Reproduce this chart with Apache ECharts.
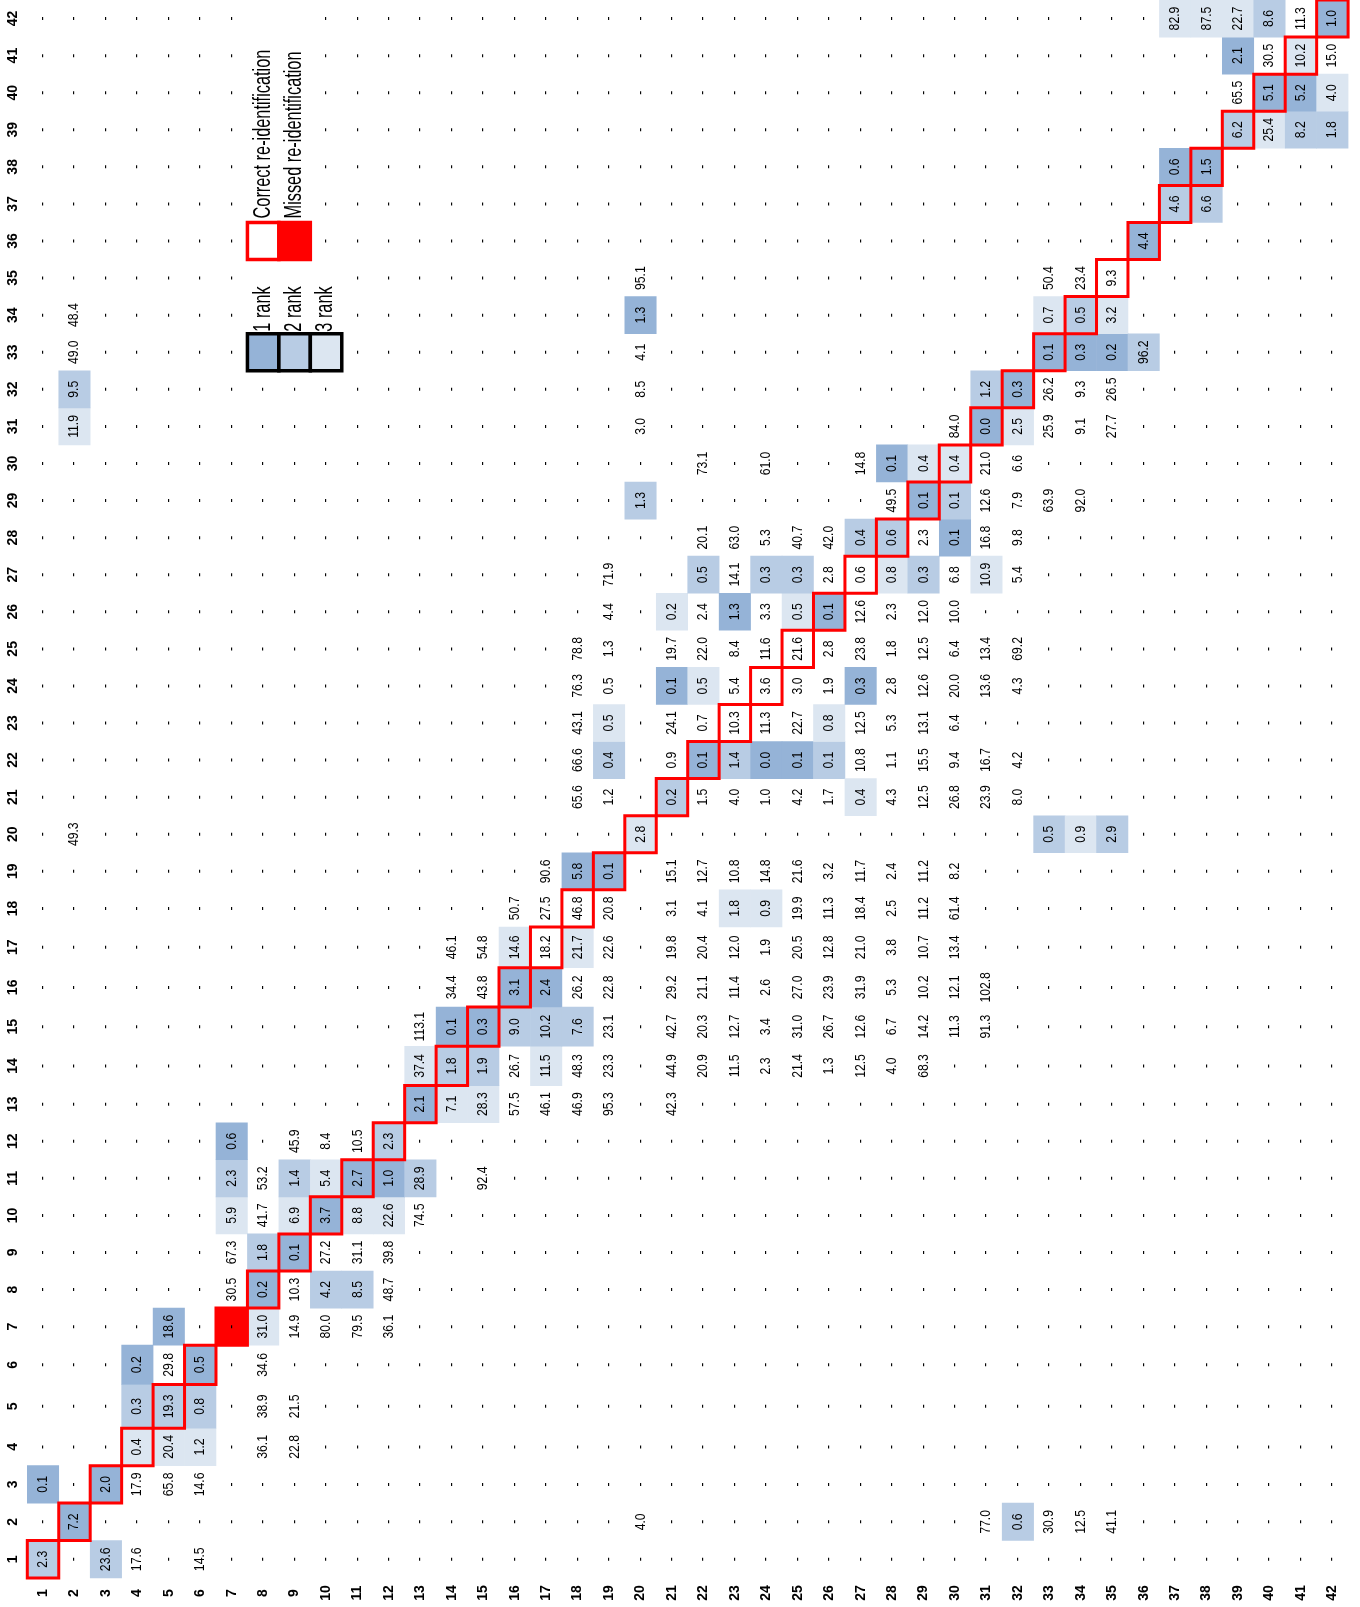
<!DOCTYPE html>
<html>
<head>
<meta charset="utf-8">
<script src="https://cdn.jsdelivr.net/npm/echarts@6/dist/echarts.min.js"></script>
<style>
  html, body { margin: 0; padding: 0; background: #fff; }
  #chart { width: 1360px; height: 1607px; }
</style>
</head>
<body>
<div id="chart"></div>
<script>
// Axis tick labels (same 1..42 identities on both axes)
const labels = ['1','2','3','4','5','6','7','8','9','10','11','12','13','14','15','16','17','18','19','20','21',
  '22','23','24','25','26','27','28','29','30','31','32','33','34','35','36','37','38','39','40','41','42'];

// One array per column: [row, distance, rank]; rank 1..3 marks the three nearest candidates, 0 = unranked
const col01 = [[1, 2.3, 2], [3, 0.1, 1]];
const col02 = [[2, 7.2, 1], [20, 49.3, 0], [31, 11.9, 3], [32, 9.5, 2], [33, 49.0, 0], [34, 48.4, 0]];
const col03 = [[1, 23.6, 2], [3, 2.0, 1]];
const col04 = [[1, 17.6, 0], [3, 17.9, 0], [4, 0.4, 3], [5, 0.3, 2], [6, 0.2, 1]];
const col05 = [[3, 65.8, 0], [4, 20.4, 3], [5, 19.3, 2], [6, 29.8, 0], [7, 18.6, 1]];
const col06 = [[1, 14.5, 0], [3, 14.6, 0], [4, 1.2, 3], [5, 0.8, 2], [6, 0.5, 1]];
const col07 = [[8, 30.5, 0], [9, 67.3, 0], [10, 5.9, 3], [11, 2.3, 2], [12, 0.6, 1]];
const col08 = [[4, 36.1, 0], [5, 38.9, 0], [6, 34.6, 0], [7, 31.0, 3], [8, 0.2, 1], [9, 1.8, 2], [10, 41.7, 0], [11, 53.2, 0]];
const col09 = [[4, 22.8, 0], [5, 21.5, 0], [7, 14.9, 0], [8, 10.3, 0], [9, 0.1, 1], [10, 6.9, 3], [11, 1.4, 2], [12, 45.9, 0]];
const col10 = [[7, 80.0, 0], [8, 4.2, 2], [9, 27.2, 0], [10, 3.7, 1], [11, 5.4, 3], [12, 8.4, 0]];
const col11 = [[7, 79.5, 0], [8, 8.5, 2], [9, 31.1, 0], [10, 8.8, 3], [11, 2.7, 1], [12, 10.5, 0]];
const col12 = [[7, 36.1, 0], [8, 48.7, 0], [9, 39.8, 0], [10, 22.6, 3], [11, 1.0, 1], [12, 2.3, 2]];
const col13 = [[10, 74.5, 0], [11, 28.9, 2], [13, 2.1, 1], [14, 37.4, 3], [15, 113.1, 0]];
const col14 = [[13, 7.1, 3], [14, 1.8, 2], [15, 0.1, 1], [16, 34.4, 0], [17, 46.1, 0]];
const col15 = [[11, 92.4, 0], [13, 28.3, 3], [14, 1.9, 2], [15, 0.3, 1], [16, 43.8, 0], [17, 54.8, 0]];
const col16 = [[13, 57.5, 0], [14, 26.7, 0], [15, 9.0, 2], [16, 3.1, 1], [17, 14.6, 3], [18, 50.7, 0]];
const col17 = [[13, 46.1, 0], [14, 11.5, 3], [15, 10.2, 2], [16, 2.4, 1], [17, 18.2, 0], [18, 27.5, 0], [19, 90.6, 0]];
const col18 = [[13, 46.9, 0], [14, 48.3, 0], [15, 7.6, 2], [16, 26.2, 0], [17, 21.7, 3], [18, 46.8, 0], [19, 5.8, 1],
  [21, 65.6, 0], [22, 66.6, 0], [23, 43.1, 0], [24, 76.3, 0], [25, 78.8, 0]];
const col19 = [[13, 95.3, 0], [14, 23.3, 0], [15, 23.1, 0], [16, 22.8, 0], [17, 22.6, 0], [18, 20.8, 0], [19, 0.1, 1],
  [21, 1.2, 0], [22, 0.4, 2], [23, 0.5, 3], [24, 0.5, 0], [25, 1.3, 0], [26, 4.4, 0], [27, 71.9, 0]];
const col20 = [[2, 4.0, 0], [20, 2.8, 3], [29, 1.3, 2], [31, 3.0, 0], [32, 8.5, 0], [33, 4.1, 0], [34, 1.3, 1], [35, 95.1, 0]];
const col21 = [[13, 42.3, 0], [14, 44.9, 0], [15, 42.7, 0], [16, 29.2, 0], [17, 19.8, 0], [18, 3.1, 0], [19, 15.1, 0],
  [21, 0.2, 2], [22, 0.9, 0], [23, 24.1, 0], [24, 0.1, 1], [25, 19.7, 0], [26, 0.2, 3]];
const col22 = [[14, 20.9, 0], [15, 20.3, 0], [16, 21.1, 0], [17, 20.4, 0], [18, 4.1, 0], [19, 12.7, 0], [21, 1.5, 0],
  [22, 0.1, 1], [23, 0.7, 0], [24, 0.5, 3], [25, 22.0, 0], [26, 2.4, 0], [27, 0.5, 2], [28, 20.1, 0], [30, 73.1, 0]];
const col23 = [[14, 11.5, 0], [15, 12.7, 0], [16, 11.4, 0], [17, 12.0, 0], [18, 1.8, 3], [19, 10.8, 0], [21, 4.0, 0],
  [22, 1.4, 2], [23, 10.3, 0], [24, 5.4, 0], [25, 8.4, 0], [26, 1.3, 1], [27, 14.1, 0], [28, 63.0, 0]];
const col24 = [[14, 2.3, 0], [15, 3.4, 0], [16, 2.6, 0], [17, 1.9, 0], [18, 0.9, 3], [19, 14.8, 0], [21, 1.0, 0],
  [22, 0.0, 1], [23, 11.3, 0], [24, 3.6, 0], [25, 11.6, 0], [26, 3.3, 0], [27, 0.3, 2], [28, 5.3, 0], [30, 61.0, 0]];
const col25 = [[14, 21.4, 0], [15, 31.0, 0], [16, 27.0, 0], [17, 20.5, 0], [18, 19.9, 0], [19, 21.6, 0], [21, 4.2, 0],
  [22, 0.1, 1], [23, 22.7, 0], [24, 3.0, 0], [25, 21.6, 0], [26, 0.5, 3], [27, 0.3, 2], [28, 40.7, 0]];
const col26 = [[14, 1.3, 0], [15, 26.7, 0], [16, 23.9, 0], [17, 12.8, 0], [18, 11.3, 0], [19, 3.2, 0], [21, 1.7, 0],
  [22, 0.1, 2], [23, 0.8, 3], [24, 1.9, 0], [25, 2.8, 0], [26, 0.1, 1], [27, 2.8, 0], [28, 42.0, 0]];
const col27 = [[14, 12.5, 0], [15, 12.6, 0], [16, 31.9, 0], [17, 21.0, 0], [18, 18.4, 0], [19, 11.7, 0], [21, 0.4, 3],
  [22, 10.8, 0], [23, 12.5, 0], [24, 0.3, 1], [25, 23.8, 0], [26, 12.6, 0], [27, 0.6, 0], [28, 0.4, 2], [30, 14.8, 0]];
const col28 = [[14, 4.0, 0], [15, 6.7, 0], [16, 5.3, 0], [17, 3.8, 0], [18, 2.5, 0], [19, 2.4, 0], [21, 4.3, 0],
  [22, 1.1, 0], [23, 5.3, 0], [24, 2.8, 0], [25, 1.8, 0], [26, 2.3, 0], [27, 0.8, 3], [28, 0.6, 2], [29, 49.5, 0], [30, 0.1, 1]];
const col29 = [[14, 68.3, 0], [15, 14.2, 0], [16, 10.2, 0], [17, 10.7, 0], [18, 11.2, 0], [19, 11.2, 0], [21, 12.5, 0],
  [22, 15.5, 0], [23, 13.1, 0], [24, 12.6, 0], [25, 12.5, 0], [26, 12.0, 0], [27, 0.3, 2], [28, 2.3, 0], [29, 0.1, 1], [30, 0.4, 3]];
const col30 = [[15, 11.3, 0], [16, 12.1, 0], [17, 13.4, 0], [18, 61.4, 0], [19, 8.2, 0], [21, 26.8, 0], [22, 9.4, 0],
  [23, 6.4, 0], [24, 20.0, 0], [25, 6.4, 0], [26, 10.0, 0], [27, 6.8, 0], [28, 0.1, 1], [29, 0.1, 2], [30, 0.4, 3], [31, 84.0, 0]];
const col31 = [[2, 77.0, 0], [15, 91.3, 0], [16, 102.8, 0], [21, 23.9, 0], [22, 16.7, 0], [24, 13.6, 0], [25, 13.4, 0],
  [27, 10.9, 3], [28, 16.8, 0], [29, 12.6, 0], [30, 21.0, 0], [31, 0.0, 1], [32, 1.2, 2]];
const col32 = [[2, 0.6, 2], [21, 8.0, 0], [22, 4.2, 0], [24, 4.3, 0], [25, 69.2, 0], [27, 5.4, 0], [28, 9.8, 0],
  [29, 7.9, 0], [30, 6.6, 0], [31, 2.5, 3], [32, 0.3, 1]];
const col33 = [[2, 30.9, 0], [20, 0.5, 2], [29, 63.9, 0], [31, 25.9, 0], [32, 26.2, 0], [33, 0.1, 1], [34, 0.7, 3], [35, 50.4, 0]];
const col34 = [[2, 12.5, 0], [20, 0.9, 3], [29, 92.0, 0], [31, 9.1, 0], [32, 9.3, 0], [33, 0.3, 1], [34, 0.5, 2], [35, 23.4, 0]];
const col35 = [[2, 41.1, 0], [20, 2.9, 2], [31, 27.7, 0], [32, 26.5, 0], [33, 0.2, 1], [34, 3.2, 3], [35, 9.3, 0]];
const col36 = [[33, 96.2, 2], [36, 4.4, 1]];
const col37 = [[37, 4.6, 2], [38, 0.6, 1], [42, 82.9, 3]];
const col38 = [[37, 6.6, 2], [38, 1.5, 1], [42, 87.5, 3]];
const col39 = [[39, 6.2, 2], [40, 65.5, 0], [41, 2.1, 1], [42, 22.7, 3]];
const col40 = [[39, 25.4, 3], [40, 5.1, 1], [41, 30.5, 0], [42, 8.6, 2]];
const col41 = [[39, 8.2, 2], [40, 5.2, 1], [41, 10.2, 3], [42, 11.3, 0]];
const col42 = [[39, 1.8, 2], [40, 4.0, 3], [41, 15.0, 0], [42, 1.0, 1]];

// Diagonal cells whose true match was missed (filled red)
const missedCells = [[7, 7]];

const rankNames = ['1 rank', '2 rank', '3 rank'];
const matchNames = ['Correct re-identification', 'Missed re-identification'];

const columns = [col01, col02, col03, col04, col05, col06, col07, col08, col09, col10, col11, col12, col13, col14,
  col15, col16, col17, col18, col19, col20, col21, col22, col23, col24, col25, col26, col27, col28, col29, col30,
  col31, col32, col33, col34, col35, col36, col37, col38, col39, col40, col41, col42];

// Relative row heights, bottom (row 1) to top (row 42); a few sheet rows are wider than the rest
const rowHeights = [1.01, 1.01, 1.01, 1.01, 1.18, 1.06, 1, 1, 1, 1, 1, 1, 1, 1.06, 1.06, 1.06, 1.10,
  1, 1, 1, 1, 1, 1, 1, 1, 1, 1, 1, 1, 1, 1, 1, 1, 1, 1, 1, 1, 1, 1, 1, 1, 1];

const FONT = "'Liberation Sans', Arial, sans-serif";
const NARROW = 0.84;          // horizontal squeeze giving a condensed face
const RANK_COLORS = ['#ffffff', '#95B3D7', '#B8CCE4', '#DCE6F1'];
const RED = '#FF0000';
const N = labels.length;

// Row centres on the value axis
const rowCenters = [];
let acc = 0;
rowHeights.forEach(h => { rowCenters.push(acc + h / 2); acc += h; });
const rowTotal = acc;

// Cells occupied by the legend stay blank: [colFrom, colTo, rowFrom, rowTo]
const legendArea = [[8, 10, 33, 35], [8, 9, 36, 42]];

// Series data: [colIndex, rowCentre, value, rank, rowIndex]
const valueCells = [];
const filled = new Set();
columns.forEach((col, ci) => {
  col.forEach(([row, v, rank]) => {
    valueCells.push([ci, rowCenters[row - 1], v, rank, row - 1]);
    filled.add(ci + ':' + (row - 1));
  });
});
const inLegend = (c, r) => legendArea.some(([c0, c1, r0, r1]) => c >= c0 && c <= c1 && r >= r0 && r <= r1);
const dashCells = [];
for (let c = 0; c < N; c++) {
  for (let r = 0; r < N; r++) {
    if (!filled.has(c + ':' + r) && !inLegend(c + 1, r + 1)) dashCells.push([c, rowCenters[r], r]);
  }
}
const diagCells = labels.map((_, i) => [i, rowCenters[i], i]);
const missedData = missedCells.map(([c, r]) => [c - 1, rowCenters[r - 1], r - 1]);

function cellBox(api, rowDim) {
  const p = api.coord([api.value(0), api.value(1)]);
  const s = api.size([1, rowHeights[api.value(rowDim)]]);
  return { cx: p[0], cy: p[1], x: p[0] - s[0] / 2, y: p[1] - s[1] / 2, w: s[0], h: s[1] };
}

function cellText(x, y, text) {
  return { type: 'text', x, y, rotation: Math.PI / 2, scaleX: NARROW,
    style: { text, fontSize: 14.5, fontFamily: FONT, fill: '#000', align: 'center', verticalAlign: 'middle' } };
}

const axisLabelStyle = { fontWeight: 'bold', fontSize: 14, fontFamily: FONT, color: '#000' };

const option = {
  animation: false,
  backgroundColor: '#ffffff',
  grid: { left: 27.3, right: 11.9, top: -5.3, bottom: 29 },
  xAxis: {
    type: 'category', data: labels,
    axisLine: { show: false }, axisTick: { show: false }, splitLine: { show: false },
    axisLabel: Object.assign({ interval: 0, rotate: 90, margin: 15, align: 'center', verticalAlign: 'middle' }, axisLabelStyle)
  },
  yAxis: {
    type: 'value', min: 0, max: rowTotal,
    axisLine: { show: false }, axisTick: { show: false }, splitLine: { show: false },
    axisLabel: Object.assign({
      customValues: rowCenters, rotate: 90, margin: 14, align: 'center', verticalAlign: 'middle',
      formatter: v => {
        const i = rowCenters.findIndex(c => Math.abs(c - v) < 1e-6);
        return i >= 0 ? labels[i] : '';
      }
    }, axisLabelStyle)
  },
  series: [
    {
      // missed re-identification fill
      type: 'custom', z: 1, data: missedData,
      renderItem: (params, api) => {
        const b = cellBox(api, 2);
        return { type: 'rect', shape: { x: b.x, y: b.y, width: b.w, height: b.h }, style: { fill: RED } };
      }
    },
    {
      // distance values with rank shading
      type: 'custom', z: 2, data: valueCells,
      renderItem: (params, api) => {
        const b = cellBox(api, 4);
        const v = api.value(2), rank = api.value(3);
        const children = [];
        if (rank) {
          children.push({ type: 'rect', shape: { x: b.x - 0.3, y: b.y - 0.3, width: b.w + 0.6, height: b.h + 0.6 },
            style: { fill: RANK_COLORS[rank] } });
        }
        children.push(cellText(b.cx, b.cy, v.toFixed(1)));
        return { type: 'group', children };
      }
    },
    {
      // empty cells
      type: 'custom', z: 3, data: dashCells,
      renderItem: (params, api) => {
        const b = cellBox(api, 2);
        return cellText(b.cx, b.cy, '-');
      }
    },
    {
      // true matches outlined in red
      type: 'custom', z: 4, data: diagCells,
      renderItem: (params, api) => {
        const b = cellBox(api, 2);
        return { type: 'rect', shape: { x: b.x, y: b.y, width: b.w, height: b.h },
          style: { fill: 'none', stroke: RED, lineWidth: 3 } };
      }
    }
  ]
};

const chart = echarts.init(document.getElementById('chart'), null, { renderer: 'canvas' });
chart.setOption(option);

// Legend, laid out on the same cell grid
function gridCell(c, r) {
  const p = chart.convertToPixel({ xAxisIndex: 0, yAxisIndex: 0 }, [c - 1, rowCenters[r - 1]]);
  const q = chart.convertToPixel({ xAxisIndex: 0, yAxisIndex: 0 }, [c, rowCenters[r - 1] + rowHeights[r - 1]]);
  const w = Math.abs(q[0] - p[0]), h = Math.abs(q[1] - p[1]);
  return { cx: p[0], cy: p[1], x: p[0] - w / 2, y: p[1] - h / 2, w, h };
}
function legendText(x, y, text) {
  return { type: 'text', z: 100, x, y, rotation: Math.PI / 2, scaleX: 0.71,
    style: { text, fontSize: 23, fontFamily: FONT, fill: '#000', align: 'left', verticalAlign: 'middle' } };
}
const graphics = [];
rankNames.forEach((name, i) => {
  const b = gridCell(8 + i, 33);
  graphics.push({ type: 'rect', z: 100, shape: { x: b.x, y: b.y, width: b.w, height: b.h },
    style: { fill: RANK_COLORS[i + 1], stroke: '#000', lineWidth: 3.5 } });
  graphics.push(legendText(b.cx, b.y - 2, name));
});
matchNames.forEach((name, i) => {
  const b = gridCell(8 + i, 36);
  graphics.push({ type: 'rect', z: 100, shape: { x: b.x, y: b.y, width: b.w, height: b.h },
    style: { fill: i === 0 ? '#ffffff' : RED, stroke: RED, lineWidth: 3.5 } });
  graphics.push(legendText(b.cx, b.y - 4, name));
});
chart.setOption({ graphic: graphics });
</script>
</body>
</html>
